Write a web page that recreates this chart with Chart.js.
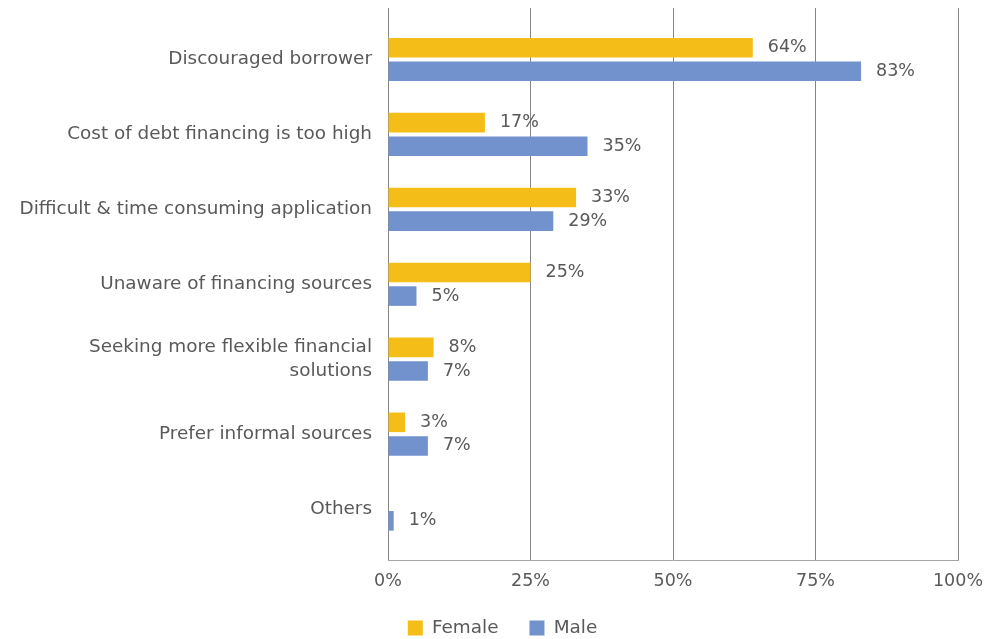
<!DOCTYPE html>
<html>
<head>
<meta charset="utf-8">
<script src="https://cdn.jsdelivr.net/npm/chart.js@4/dist/chart.umd.min.js"></script>
<style>
  html, body { margin: 0; padding: 0; background: #fff; }
  #wrap { width: 1005px; height: 639px; }
</style>
</head>
<body>
<div id="wrap"><canvas id="reasons-chart"></canvas></div>
<script>
// reasons for not applying for a loan, by gender (% of respondents)
const categories = [
    'Discouraged borrower',
    'Cost of debt financing is too high',
    'Difficult & time consuming application',
    'Unaware of financing sources',
    ['Seeking more flexible financial', 'solutions'],
    'Prefer informal sources',
    'Others'
];
const femaleValues = [64, 17, 33, 25, 8, 3, null];
const maleValues = [83, 35, 29, 5, 7, 7, 1];
const xTicks = [0, 25, 50, 75, 100];

const textColor = '#595959';
const fontFamily = '"DejaVu Sans", sans-serif';
const labelSize = 18.4;   // category names and legend
const numberSize = 17.5;  // percentages

// index axis is linear so the grid can run a bit past the first/last category
const toPoints = (vals) => vals.map((v, i) => ({ x: v, y: i }));

const valueLabels = {
    id: 'valueLabels',
    afterDatasetsDraw(chart) {
        const ctx = chart.ctx;
        ctx.save();
        ctx.font = numberSize + 'px ' + fontFamily;
        ctx.fillStyle = textColor;
        ctx.textAlign = 'left';
        ctx.textBaseline = 'middle';
        chart.data.datasets.forEach((ds, i) => {
            chart.getDatasetMeta(i).data.forEach((bar, j) => {
                const v = ds.data[j].x;
                if (v === null) return;
                ctx.fillText(v + '%', bar.x + 15, bar.y);
            });
        });
        ctx.restore();
    }
};

const ctx = document.getElementById('reasons-chart');
const reasonsChart = new Chart(ctx, {
    type: 'bar',
    data: {
        datasets: [{
            label: 'Female',
            data: toPoints(femaleValues),
            backgroundColor: '#F5BD17',
            categoryPercentage: 0.63,
            barPercentage: 0.83
        }, {
            label: 'Male',
            data: toPoints(maleValues),
            backgroundColor: '#7292CE',
            categoryPercentage: 0.63,
            barPercentage: 0.83
        }]
    },
    options: {
        indexAxis: 'y',
        responsive: true,
        maintainAspectRatio: false,
        animation: false,
        layout: {
            padding: { top: 8, right: 0, bottom: -8.2, left: 0 }
        },
        scales: {
            y: {
                type: 'linear',
                reverse: true,
                offset: false,
                min: -0.687,
                max: 6.68,
                grid: { display: false, offset: false },
                border: { display: false },
                ticks: {
                    stepSize: 1,
                    includeBounds: false,
                    padding: 8,
                    color: textColor,
                    font: { size: labelSize, family: fontFamily, lineHeight: 1.28 },
                    callback: (v) => Number.isInteger(v) ? categories[v] : ''
                },
                afterFit: (scale) => {
                    scale.width = 388;
                    scale.paddingTop = 0;
                    scale.paddingBottom = 0;
                }
            },
            x: {
                min: 0,
                max: 100,
                grid: { color: '#868686', drawTicks: false },
                border: { color: '#a6a6a6' },
                afterBuildTicks: (scale) => { scale.ticks = xTicks.map(v => ({ value: v })); },
                ticks: {
                    padding: 11,
                    color: textColor,
                    font: { size: numberSize, family: fontFamily },
                    callback: (v) => v + '%'
                },
                afterFit: (scale) => {
                    scale.height = 27.8;
                    scale.paddingRight = 47;
                }
            }
        },
        plugins: {
            legend: {
                position: 'bottom',
                labels: {
                    boxWidth: 15,
                    boxHeight: 15,
                    padding: 31,
                    color: textColor,
                    font: { size: labelSize, family: fontFamily }
                }
            },
            tooltip: { enabled: false }
        }
    },
    plugins: [valueLabels]
});
</script>
</body>
</html>
